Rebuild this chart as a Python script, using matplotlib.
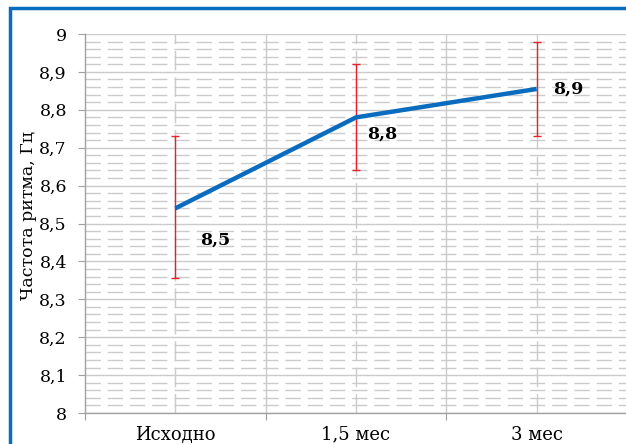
import matplotlib
matplotlib.use("Agg")
import matplotlib.pyplot as plt
from matplotlib.patches import Rectangle
import numpy as np

categories = ["Исходно", "1,5 мес", "3 мес"]
values = [8.54, 8.78, 8.855]
err_upper = [8.73, 8.92, 8.98]
err_lower = [8.355, 8.64, 8.73]
point_labels = ["8,5", "8,8", "8,9"]
y_ticks = [8.0, 8.1, 8.2, 8.3, 8.4, 8.5, 8.6, 8.7, 8.8, 8.9, 9.0]
y_ticklabels = ["8", "8,1", "8,2", "8,3", "8,4", "8,5", "8,6", "8,7", "8,8", "8,9", "9"]

plt.rcParams['font.family'] = ['DejaVu Serif', 'Liberation Serif']

W, H = 626, 444
fig = plt.figure(figsize=(W / 100, H / 100), dpi=100)
ax = fig.add_axes([85 / W, (H - 413) / H, (627 - 85) / W, (413 - 34) / H])

x = np.arange(len(categories))
vals = np.array(values)
up = np.array(err_upper) - vals
lo = vals - np.array(err_lower)

grid_c = "#cbcbcb"
for yv in np.arange(8.0, 9.0001, 0.02):
    if abs(round(yv * 10) - yv * 10) < 1e-6:
        ax.axhline(yv, color=grid_c, lw=1.0, zorder=1)
    else:
        ax.axhline(yv, color=grid_c, lw=1.0, ls=(0, (11, 5)), zorder=1)
for xv in [0.5, 1.5]:
    ax.axvline(xv, color=grid_c, lw=1.0, zorder=1)
for xv in x:
    ax.axvline(xv, color=grid_c, lw=1.0, ls=(0, (14, 5)), zorder=1)

ax.errorbar(x, vals, yerr=[lo, up], fmt="none", ecolor="#e8212b", elinewidth=1.0,
            capsize=3, capthick=1.0, zorder=3)
ax.plot(x, vals, color="#0a6cbf", lw=3.2, solid_capstyle="butt", zorder=4)

offsets = [(18, -23), (8, -12), (12, 0)]
for xi, v, lab, off in zip(x, vals, point_labels, offsets):
    ax.annotate(lab, (xi, v), xytext=off, textcoords="offset points",
                fontsize=12.5, fontweight="bold", ha="left", va="center", zorder=5)

ax.set_xlim(-0.5, 2.5)
ax.set_ylim(8.0, 9.0)
ax.set_yticks(y_ticks)
ax.set_yticklabels(y_ticklabels, fontsize=12.5)
ax.set_xticks([-0.5, 0.5, 1.5, 2.5])
ax.set_xticklabels([])
ax.set_xticks(x, minor=True)
ax.set_xticklabels(categories, minor=True, fontsize=13)
ax.tick_params(axis="x", which="minor", length=0, pad=9)
ax.tick_params(axis="x", which="major", length=5, color="#a0a0a0")
ax.tick_params(axis="y", length=5, color="#a0a0a0", pad=8)

for s in ["top", "right"]:
    ax.spines[s].set_visible(False)
for s in ["left", "bottom"]:
    ax.spines[s].set_color("#a0a0a0")
    ax.spines[s].set_linewidth(1.0)

ax.set_ylabel("Частота ритма, Гц", fontsize=12.5)
ax.yaxis.set_label_coords(-0.088, 0.52)

fig.patches.append(Rectangle((10 / W, -0.1), 1.2, (H - 8) / H + 0.1,
                             transform=fig.transFigure, fill=False,
                             edgecolor="#0a6cbf", lw=2.5, zorder=10))

fig.savefig("out.png", dpi=100)
